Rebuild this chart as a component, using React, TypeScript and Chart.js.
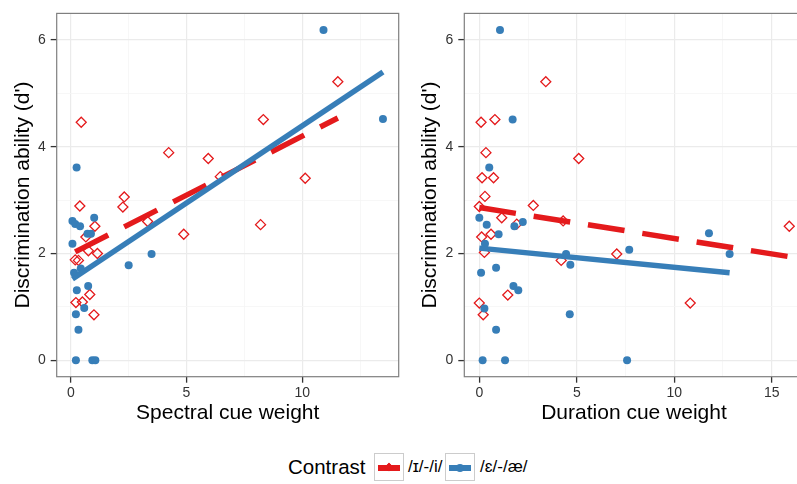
import React, { useEffect, useRef } from "react";
import { Chart, registerables } from "chart.js";

Chart.register(...registerables);

const RED = "#E41A1C";
const BLUE = "#377EB8";
const FONT = "'Liberation Sans', Arial, Helvetica, sans-serif";

// ---- Spectral cue weight panel ----
const spectralIiX = [0.45, 11.54, 8.32, 4.23, 5.94, 10.13, 6.46, 2.31, 2.25, 0.39, 3.32, 4.88, 8.2, 1.04, 0.65, 0.76, 1.15, 0.19, 0.33, 0.22, 0.5, 0.82, 1.0];
const spectralIiY = [4.46, 5.22, 4.51, 3.89, 3.78, 3.41, 3.44, 3.06, 2.87, 2.89, 2.6, 2.36, 2.54, 2.51, 2.31, 2.05, 2.0, 1.88, 1.87, 1.08, 1.09, 1.23, 0.85];
const spectralEaeX = [10.92, 13.49, 0.25, 3.49, 2.5, 0.07, 0.19, 0.4, 1.01, 0.72, 0.87, 0.07, 0.14, 0.43, 0.26, 0.75, 0.58, 0.22, 0.33, 0.22, 0.93, 1.06];
const spectralEaeY = [6.19, 4.52, 3.61, 1.99, 1.78, 2.61, 2.55, 2.51, 2.67, 2.37, 2.37, 2.18, 1.64, 1.72, 1.31, 1.39, 0.98, 0.86, 0.57, 0, 0, 0];
const spectralIiFitX = [0.19, 11.54];
const spectralIiFitY = [2.03, 4.54];
const spectralEaeFitX = [0.07, 13.49];
const spectralEaeFitY = [1.52, 5.40];

// ---- Duration cue weight panel ----
const durationIiX = [0.09, 0.8, 3.41, 0.34, 5.1, 0.14, 0.73, 0.29, 0.0, 2.77, 1.15, 1.92, 4.3, 0.6, 0.12, 0.26, 4.2, 7.05, 0.0, 0.2, 1.46, 10.82, 15.9];
const durationIiY = [4.46, 4.51, 5.22, 3.89, 3.78, 3.42, 3.42, 3.07, 2.88, 2.9, 2.67, 2.55, 2.61, 2.36, 2.31, 2.02, 1.87, 1.99, 1.07, 0.85, 1.22, 1.07, 2.51];
const durationEaeX = [1.06, 1.71, 0.51, 0.0, 0.38, 0.99, 1.8, 2.23, 0.29, 0.09, 0.86, 1.75, 2.0, 0.26, 0.86, 0.17, 1.32, 4.45, 4.67, 4.64, 7.69, 11.78, 12.84, 7.58];
const durationEaeY = [6.19, 4.51, 3.61, 2.67, 2.54, 2.36, 2.51, 2.59, 2.18, 1.64, 1.73, 1.39, 1.31, 0.97, 0.57, 0, 0, 1.99, 1.79, 0.86, 2.07, 2.38, 1.99, 0];
const durationIiFitX = [0.0, 15.9];
const durationIiFitY = [2.86, 1.94];
const durationEaeFitX = [0.0, 12.84];
const durationEaeFitY = [2.10, 1.64];

// ---- axes ----
const yMajor = [0, 2, 4, 6];
const yMinor = [1, 3, 5];
const spectralMajor = [0, 5, 10];
const spectralMinor = [2.5, 7.5, 12.5];
const durationMajor = [0, 5, 10, 15];
const durationMinor = [2.5, 7.5, 12.5];

const legendTitle = "Contrast";
const seriesNames = ["/ɪ/-/i/", "/ɛ/-/æ/"];

type Panel = {
  redX: number[]; redY: number[]; blueX: number[]; blueY: number[];
  redFitX: number[]; redFitY: number[]; blueFitX: number[]; blueFitY: number[];
  xMin: number; xMax: number; xMajor: number[]; xMinor: number[]; xTitle: string;
  yAxisWidth: number; yTitlePad: number; rightPad: number;
};

const pts = (xs: number[], ys: number[]) => xs.map((x, i) => ({ x, y: ys[i] }));

const borderPlugin = {
  id: "panelBorder",
  afterDraw(chart: any) {
    const { ctx, chartArea: a } = chart;
    ctx.save();
    ctx.strokeStyle = "#7f7f7f";
    ctx.lineWidth = 1.2;
    ctx.strokeRect(a.left, a.top, a.right - a.left, a.bottom - a.top);
    ctx.restore();
  },
};

function makeConfig(p: Panel): any {
  const xAll = [...p.xMajor, ...p.xMinor].sort((a, b) => a - b);
  const yAll = [...yMajor, ...yMinor].sort((a, b) => a - b);
  const gridFor = (major: number[]) => ({
    color: (c: any) => (major.includes(c.tick?.value) ? "#EBEBEB" : "#F5F5F5"),
    lineWidth: (c: any) => (major.includes(c.tick?.value) ? 1.2 : 0.8),
    tickColor: (c: any) => (major.includes(c.tick?.value) ? "#333333" : "rgba(0,0,0,0)"),
    tickWidth: 1.3,
    tickLength: 6,
    drawTicks: true,
  });
  return {
    type: "scatter",
    data: {
      datasets: [
        {
          data: pts(p.blueFitX, p.blueFitY), showLine: true, borderColor: BLUE, borderWidth: 5.5,
          pointRadius: 0, borderCapStyle: "butt", tension: 0, order: 0,
        },
        {
          data: pts(p.redFitX, p.redFitY), showLine: true, borderColor: RED, borderWidth: 5.5,
          borderDash: [37, 18], pointRadius: 0, borderCapStyle: "butt", tension: 0, order: 1,
        },
        {
          data: pts(p.blueX, p.blueY), pointStyle: "circle", pointRadius: 4, backgroundColor: BLUE,
          borderWidth: 0, order: 2,
        },
        {
          data: pts(p.redX, p.redY), pointStyle: "rectRot", pointRadius: 5, backgroundColor: "rgba(0,0,0,0)",
          borderColor: RED, borderWidth: 1.3, order: 3,
        },
      ],
    },
    options: {
      animation: false,
      responsive: true,
      maintainAspectRatio: false,
      events: [],
      layout: { padding: { top: 9.3, right: p.rightPad, left: 0, bottom: 0 } },
      plugins: { legend: { display: false }, tooltip: { enabled: false } },
      scales: {
        x: {
          type: "linear", min: p.xMin, max: p.xMax,
          afterBuildTicks: (s: any) => { s.ticks = xAll.map((v) => ({ value: v })); },
          afterFit: (s: any) => { s.height = 53.3; },
          grid: gridFor(p.xMajor),
          border: { display: false },
          ticks: {
            autoSkip: false, maxRotation: 0, padding: 2, color: "#333333",
            font: { size: 14, family: FONT },
            callback: (v: number) => (p.xMajor.includes(v) ? String(v) : ""),
          },
          title: { display: true, text: p.xTitle, color: "#000", font: { size: 21, family: FONT }, padding: { bottom: 4, top: 0 } },
        },
        y: {
          type: "linear", min: -0.31, max: 6.5,
          afterBuildTicks: (s: any) => { s.ticks = yAll.map((v) => ({ value: v })); },
          afterFit: (s: any) => { s.width = p.yAxisWidth; },
          grid: gridFor(yMajor),
          border: { display: false },
          ticks: {
            autoSkip: false, padding: 5, color: "#333333",
            font: { size: 14, family: FONT },
            callback: (v: number) => (yMajor.includes(v) ? String(v) : ""),
          },
          title: { display: true, text: "Discrimination ability (d')", color: "#000", font: { size: 21, family: FONT }, padding: { top: p.yTitlePad, bottom: 0 } },
        },
      },
    },
    plugins: [borderPlugin],
  };
}

const spectralPanel: Panel = {
  redX: spectralIiX, redY: spectralIiY, blueX: spectralEaeX, blueY: spectralEaeY,
  redFitX: spectralIiFitX, redFitY: spectralIiFitY, blueFitX: spectralEaeFitX, blueFitY: spectralEaeFitY,
  xMin: -0.61, xMax: 14.17, xMajor: spectralMajor, xMinor: spectralMinor, xTitle: "Spectral cue weight",
  yAxisWidth: 56.7, yTitlePad: 11, rightPad: 3.3,
};

const durationPanel: Panel = {
  redX: durationIiX, redY: durationIiY, blueX: durationEaeX, blueY: durationEaeY,
  redFitX: durationIiFitX, redFitY: durationIiFitY, blueFitX: durationEaeFitX, blueFitY: durationEaeFitY,
  xMin: -0.77, xMax: 16.64, xMajor: durationMajor, xMinor: durationMinor, xTitle: "Duration cue weight",
  yAxisWidth: 59.3, yTitlePad: 13, rightPad: 5.7,
};

function PanelChart({ panel, left }: { panel: Panel; left: number }) {
  const ref = useRef<HTMLCanvasElement | null>(null);
  useEffect(() => {
    if (!ref.current) return;
    const chart = new Chart(ref.current, makeConfig(panel));
    return () => chart.destroy();
  }, [panel]);
  return (
    <div style={{ position: "absolute", left, top: 0, width: 405, height: 430 }}>
      <canvas ref={ref} />
    </div>
  );
}

function LegendKey({ color, shape, left }: { color: string; shape: "diamond" | "dot"; left: number }) {
  return (
    <div style={{ position: "absolute", left, top: 453, width: 28, height: 26, border: "1px solid #cccccc", background: "#fff" }}>
      <div style={{ position: "absolute", left: 3, right: 3, top: 11, height: 5.5, background: color }} />
      {shape === "diamond" ? (
        <div style={{ position: "absolute", left: 10.5, top: 9.5, width: 6, height: 6, border: `1.3px solid ${color}`, transform: "rotate(45deg)", boxSizing: "border-box", background: color }} />
      ) : (
        <div style={{ position: "absolute", left: 10, top: 9.5, width: 8, height: 8, borderRadius: "50%", background: color }} />
      )}
    </div>
  );
}

export default function App() {
  return (
    <div style={{ position: "fixed", left: 0, top: 0, width: 797, height: 484, overflow: "hidden", background: "#fff", fontFamily: FONT }}>
      <PanelChart panel={spectralPanel} left={0} />
      <PanelChart panel={durationPanel} left={405} />
      <div style={{ position: "absolute", left: 288, top: 454, fontSize: 20.5, lineHeight: "26px", color: "#000", whiteSpace: "nowrap" }}>{legendTitle}</div>
      <LegendKey color={RED} shape="diamond" left={374} />
      <div style={{ position: "absolute", left: 408, top: 455, fontSize: 17, lineHeight: "24px", color: "#000", whiteSpace: "nowrap" }}>{seriesNames[0]}</div>
      <LegendKey color={BLUE} shape="dot" left={445} />
      <div style={{ position: "absolute", left: 480, top: 455, fontSize: 17, lineHeight: "24px", color: "#000", whiteSpace: "nowrap" }}>{seriesNames[1]}</div>
    </div>
  );
}
